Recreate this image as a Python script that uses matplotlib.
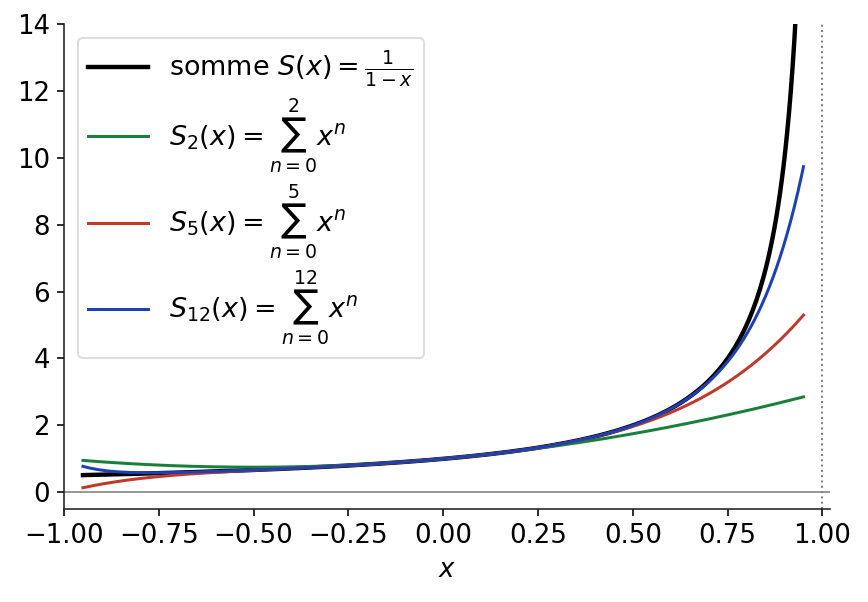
import numpy as np
import matplotlib
matplotlib.use("Agg")
import matplotlib.pyplot as plt

# data
x_min, x_max = -0.95, 0.95
orders = [2, 5, 12]
colors = ["#1a7f3c", "#c0392b", "#1f3fb5"]
x = np.linspace(x_min, x_max, 400)
S_full = 1.0 / (1.0 - x)
partials = [sum(x**n for n in range(N + 1)) for N in orders]

plt.rcParams['font.size'] = 13
fig = plt.figure(figsize=(868/144, 602/144), dpi=144)
ax = fig.add_axes([64/868, 1-509/602, (830-64)/868, (509-24)/602])

ax.axhline(0, color="gray", lw=0.8, zorder=0)
ax.axvline(1, color="gray", lw=1.0, ls=":", zorder=0)
ax.plot(x, S_full, color="black", lw=2.2, label=r"somme $S(x)=\frac{1}{1-x}$")
for N, y, c in zip(orders, partials, colors):
    ax.plot(x, y, color=c, lw=1.5, label=r"$S_{%d}(x)=\sum_{n=0}^{%d}x^n$" % (N, N))

ax.set_xlim(-1.0, 1.02)
ax.set_ylim(-0.5, 14)
ax.set_xticks(np.arange(-1.0, 1.01, 0.25))
ax.set_yticks(np.arange(0, 15, 2))
ax.set_xlabel(r"$x$")
for s in ["top", "right"]:
    ax.spines[s].set_visible(False)
for s in ["left", "bottom"]:
    ax.spines[s].set_color("#222222")
ax.legend(loc="upper left", fontsize=13.5, framealpha=1, edgecolor="#dddddd",
          labelspacing=0.3, handlelength=2.2)
fig.savefig("out.png", dpi=144)
